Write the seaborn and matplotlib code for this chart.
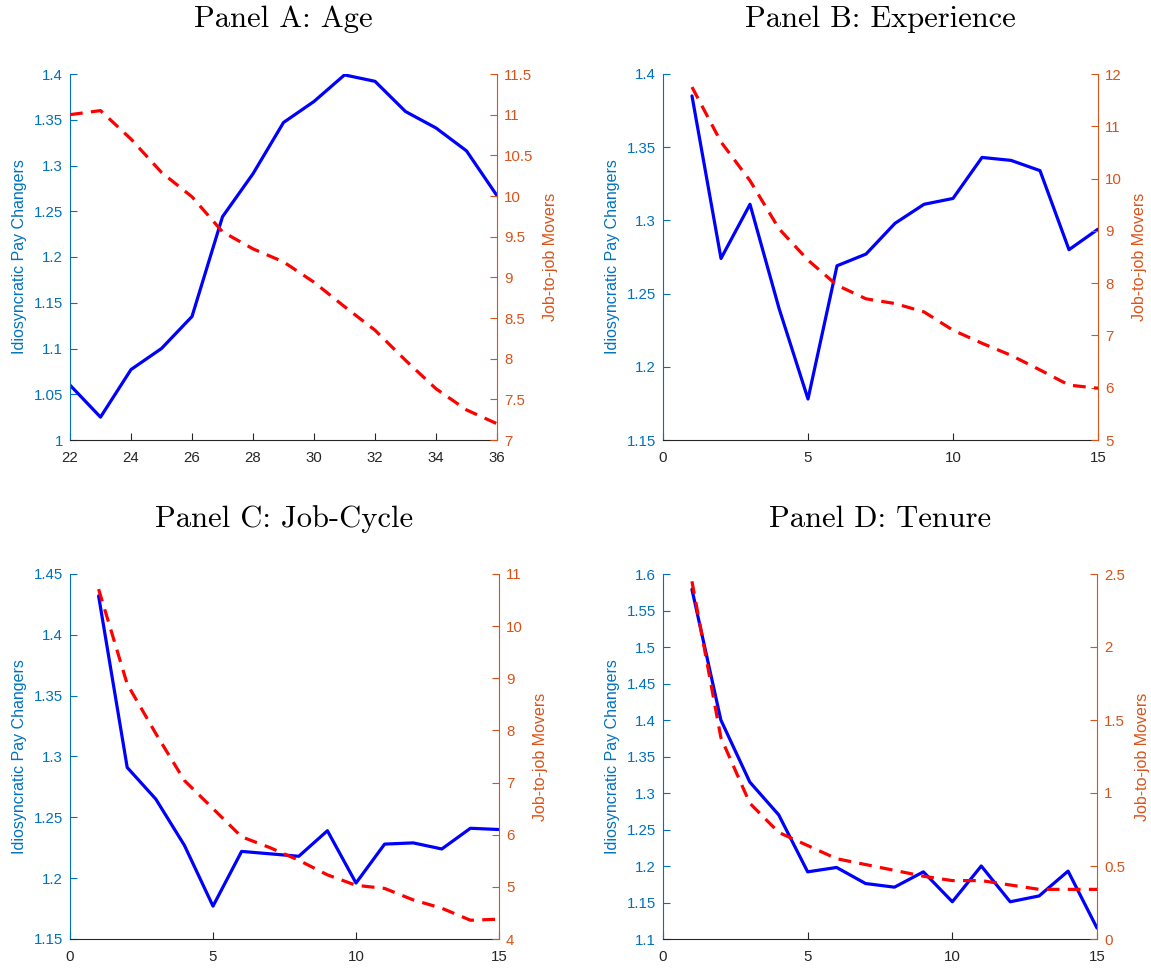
import numpy as np
import pandas as pd
import matplotlib
matplotlib.use("Agg")
import matplotlib.pyplot as plt
from matplotlib.ticker import FormatStrFormatter
import seaborn as sns

# datos
age_x = list(range(22, 37))
age_pay = [1.060, 1.025, 1.077, 1.100, 1.135, 1.244, 1.291, 1.347, 1.370, 1.399,
           1.392, 1.359, 1.341, 1.316, 1.267]
age_j2j = [11.00, 11.05, 10.70, 10.29, 9.99, 9.56, 9.35, 9.19, 8.94, 8.64,
           8.35, 7.98, 7.63, 7.37, 7.20]

exp_x = list(range(1, 16))
exp_pay = [1.385, 1.274, 1.311, 1.240, 1.178, 1.269, 1.277, 1.298, 1.311, 1.315,
           1.343, 1.341, 1.334, 1.280, 1.294]
exp_j2j = [11.75, 10.70, 9.96, 9.04, 8.44, 7.96, 7.70, 7.61, 7.45, 7.10,
           6.85, 6.62, 6.34, 6.05, 5.99]

cyc_x = list(range(1, 16))
cyc_pay = [1.432, 1.291, 1.265, 1.227, 1.177, 1.222, 1.220, 1.218, 1.239, 1.196,
           1.228, 1.229, 1.224, 1.241, 1.240]
cyc_j2j = [10.71, 8.89, 7.94, 7.04, 6.50, 5.96, 5.75, 5.51, 5.23, 5.03,
           4.97, 4.75, 4.59, 4.36, 4.38]

ten_x = list(range(1, 16))
ten_pay = [1.579, 1.400, 1.315, 1.270, 1.192, 1.198, 1.176, 1.171, 1.192, 1.151,
           1.200, 1.151, 1.159, 1.193, 1.115]
ten_j2j = [2.45, 1.38, 0.93, 0.73, 0.64, 0.55, 0.51, 0.47, 0.43, 0.40,
           0.40, 0.37, 0.34, 0.34, 0.34]

titles = ["Panel A: Age", "Panel B: Experience", "Panel C: Job-Cycle", "Panel D: Tenure"]

sns.set_theme(style="white")
plt.rcParams["font.family"] = ["Liberation Sans", "DejaVu Sans"]

BLUE_AX = "#0072BD"
ORANGE_AX = "#D95319"
GRAY = "#262626"

panels = [
    dict(x=age_x, pay=age_pay, j2j=age_j2j, xlim=(22, 36), xt=np.arange(22, 37, 2),
         yl=(1.0, 1.4), yt=np.arange(1.0, 1.401, 0.05), yr=(7, 11.5), yrt=np.arange(7, 11.51, 0.5),
         rect=[70, 74, 497, 440]),
    dict(x=exp_x, pay=exp_pay, j2j=exp_j2j, xlim=(0, 15), xt=[0, 5, 10, 15],
         yl=(1.15, 1.4), yt=np.arange(1.15, 1.401, 0.05), yr=(5, 12), yrt=np.arange(5, 12.1, 1),
         rect=[663, 74, 1098, 440]),
    dict(x=cyc_x, pay=cyc_pay, j2j=cyc_j2j, xlim=(0, 15), xt=[0, 5, 10, 15],
         yl=(1.15, 1.45), yt=np.arange(1.15, 1.451, 0.05), yr=(4, 11), yrt=np.arange(4, 11.1, 1),
         rect=[70, 574, 499, 939]),
    dict(x=ten_x, pay=ten_pay, j2j=ten_j2j, xlim=(0, 15), xt=[0, 5, 10, 15],
         yl=(1.1, 1.6), yt=np.arange(1.1, 1.601, 0.05), yr=(0, 2.5), yrt=np.arange(0, 2.51, 0.5),
         rect=[663, 574, 1097, 939]),
]

W, H = 1151, 971
fig = plt.figure(figsize=(W / 100, H / 100), dpi=100)

for p, title in zip(panels, titles):
    l, t, r, b = p["rect"]
    ax = fig.add_axes([l / W, 1 - b / H, (r - l) / W, (b - t) / H])
    ax2 = ax.twinx()
    df = pd.DataFrame({"x": p["x"], "pay": p["pay"], "j2j": p["j2j"]})

    sns.lineplot(data=df, x="x", y="pay", ax=ax, color="#0000FF", linewidth=2.3)
    sns.lineplot(data=df, x="x", y="j2j", ax=ax2, color="#FF0000", linewidth=2.3)
    ax2.lines[0].set_dashes((4, 2.6))

    ax.set_xlim(*p["xlim"])
    ax.set_xticks(p["xt"])
    ax.set_ylim(*p["yl"])
    ax.set_yticks(p["yt"])
    ax2.set_ylim(*p["yr"])
    ax2.set_yticks(p["yrt"])
    ax.yaxis.set_major_formatter(FormatStrFormatter("%g"))
    ax2.yaxis.set_major_formatter(FormatStrFormatter("%g"))
    ax.xaxis.set_major_formatter(FormatStrFormatter("%g"))

    ax.set_xlabel("")
    ax.set_ylabel("Idiosyncratic Pay Changers", color=BLUE_AX, fontsize=11.5, labelpad=5)
    ax2.set_ylabel("Job-to-job Movers", color=ORANGE_AX, fontsize=11.5, labelpad=7)

    for a in (ax, ax2):
        a.spines["top"].set_visible(False)
        a.grid(False)
    ax.spines["right"].set_visible(False)
    ax.spines["left"].set_color(BLUE_AX)
    ax.spines["bottom"].set_color(GRAY)
    ax2.spines["left"].set_visible(False)
    ax2.spines["bottom"].set_visible(False)
    ax2.spines["right"].set_color(ORANGE_AX)
    for s in ("left", "bottom"):
        ax.spines[s].set_linewidth(0.8)
    ax2.spines["right"].set_linewidth(0.8)

    ax.tick_params(axis="y", direction="in", length=5, width=0.8, colors=BLUE_AX,
                   labelsize=10.8, left=True, pad=5)
    ax.tick_params(axis="x", direction="in", length=5, width=0.8, colors=GRAY,
                   labelsize=10.8, bottom=True, pad=8)
    ax2.tick_params(axis="y", direction="in", length=5, width=0.8, colors=ORANGE_AX,
                    labelsize=10.8, right=True, pad=5)

    ax.set_title(title, fontfamily="cmr10", fontsize=22, pad=34, color="black")

fig.savefig("out.png", dpi=100)
